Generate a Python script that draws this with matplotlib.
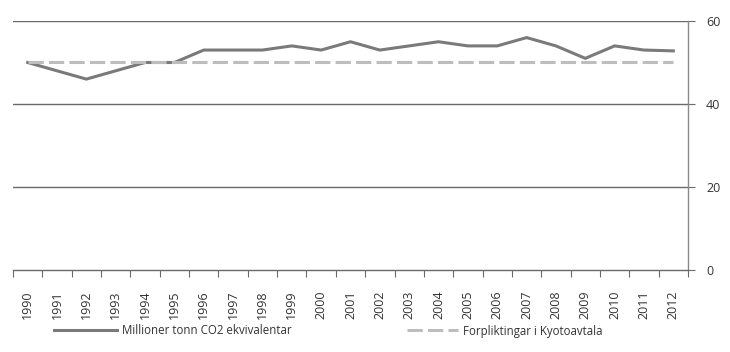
import matplotlib
matplotlib.use("Agg")
import matplotlib.pyplot as plt
import numpy as np

years = [str(y) for y in range(1990, 2013)]
emissions = [50, 48, 46, 48, 50, 50, 53, 53, 53, 54, 53, 55, 53, 54, 55, 54, 54, 56, 54, 51, 54, 53, 52.8]
kyoto = [50] * 23
yticks = [0, 20, 40, 60]
label_em = "Millioner tonn CO2 ekvivalentar"
label_ky = "Forpliktingar i Kyotoavtala"

plt.rcParams['font.family'] = ['Open Sans', 'DejaVu Sans']
fs_tick = 9.0
fs_leg = 8.3

fig = plt.figure(figsize=(7.30, 3.52), dpi=100)
ax = fig.add_axes([13/730, 1-270/352, (688-13)/730, (270-21)/352])

x = np.arange(len(years))
l1, = ax.plot(x, emissions, color='#7a7a7a', lw=2.2, solid_joinstyle='miter', zorder=3)
l2, = ax.plot(x, kyoto, color='#bdbdbd', lw=2.2, dashes=(5, 1.7), zorder=4)

ax.set_xlim(-0.5, len(years) - 0.5)
ax.set_ylim(0, 60)

for v in yticks[1:]:
    ax.axhline(v, color='#6a6a6a', lw=1.0, zorder=1)

for s in ['left', 'top']:
    ax.spines[s].set_visible(False)
ax.spines['bottom'].set_color('#6a6a6a')
ax.spines['right'].set_color('#8a8a8a')
ax.spines['bottom'].set_linewidth(1.0)
ax.spines['right'].set_linewidth(1.0)

ax.yaxis.tick_right()
ax.set_yticks(yticks)
ax.set_yticklabels([str(v) for v in yticks], fontsize=fs_tick, color='#333333')
ax.tick_params(axis='y', length=5, width=0.8, color='#6a6a6a', pad=8)

ax.set_xticks(x)
ax.set_xticklabels(years, rotation=90, fontsize=fs_tick, color='#333333')
ax.set_xticks(np.arange(-0.5, len(years), 1.0), minor=True)
ax.tick_params(axis='x', which='major', length=0, pad=15)
ax.tick_params(axis='x', which='minor', length=5, width=0.8, color='#6a6a6a')

leg1 = fig.legend([l1], [label_em], loc='center left', bbox_to_anchor=(51/730, 1-331/352),
                  frameon=False, fontsize=fs_leg, handlelength=5.4, handletextpad=0.45,
                  borderaxespad=0, borderpad=0.3)
leg2 = fig.legend([l2], [label_ky], loc='center left', bbox_to_anchor=(404/730, 1-331/352),
                  frameon=False, fontsize=fs_leg, handlelength=4.4, handletextpad=0.45,
                  borderaxespad=0, borderpad=0.3)
for t in leg1.get_texts() + leg2.get_texts():
    t.set_color('#333333')

fig.savefig("out.png", dpi=100)
